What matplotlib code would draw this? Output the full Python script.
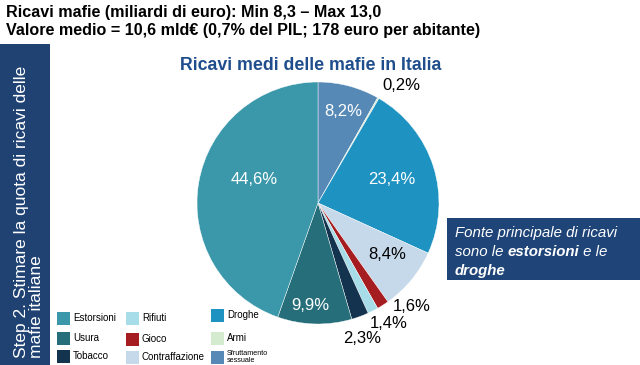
import matplotlib
matplotlib.use("Agg")
import numpy as np
import matplotlib.pyplot as plt
from matplotlib.patches import Rectangle

plt.rcParams['font.family'] = ['Liberation Sans', 'DejaVu Sans']

# data (clockwise from 12 o'clock)
categorie = ["Sfruttamento\nsessuale", "Armi", "Droghe", "Contraffazione", "Gioco",
             "Rifiuti", "Tobacco", "Usura", "Estorsioni"]
quote = [8.2, 0.2, 23.4, 8.4, 1.6, 1.4, 2.3, 9.9, 44.6]
colori = ["#5689B6", "#D4EBD0", "#1E93C1", "#C6D9EA", "#A61D21",
          "#A6DDE8", "#14334F", "#266E7A", "#3A98AA"]
col_testo = ["white", "black", "white", "black", "black", "black", "black", "white", "white"]
# label placement (radius, angular shift in degrees)
lab_r = [0.78, 1.19, 0.64, 0.71, 1.15, 1.15, 1.18, 0.85, 0.56]
lab_dt = [-0.6, -5.5, 0.3, 3.1, 9.7, 3.3, -2.4, -2.9, -10.7]

# legend order: column by column
legenda = ["Estorsioni", "Usura", "Tobacco", "Rifiuti", "Gioco", "Contraffazione",
           "Droghe", "Armi", "Sfruttamento\nsessuale"]

W, H = 640, 365
fig = plt.figure(figsize=(6.4, 3.65), dpi=100)

def fx(x):
    return x / W

def fy(y):
    return 1 - y / H

# header
fig.text(fx(6), fy(12), "Ricavi mafie (miliardi di euro): Min 8,3 \u2013 Max 13,0",
         fontsize=11.6, fontweight='bold', va='center', ha='left')
fig.text(fx(6), fy(31), "Valore medio = 10,6 mld\u20ac (0,7% del PIL; 178 euro per abitante)",
         fontsize=11.6, fontweight='bold', va='center', ha='left')

# left band
fig.patches.append(Rectangle((0, 0), fx(50), fy(44), transform=fig.transFigure,
                             facecolor="#1F4273", edgecolor='none'))
fig.text(fx(29), fy(358), "Step 2. Stimare la quota di ricavi delle\nmafie italiane",
         rotation=90, color='white', fontsize=12.5, ha='center', va='bottom',
         multialignment='left', linespacing=1.05)

# right box
fig.patches.append(Rectangle((fx(447), fy(280)), fx(193), (280 - 218) / H,
                             transform=fig.transFigure, facecolor="#1F4478", edgecolor='none'))

# title
fig.text(fx(311), fy(65), "Ricavi medi delle mafie in Italia", color="#1F4E8C",
         fontsize=12.8, fontweight='bold', ha='center', va='center')

# pie
cx, cy, r = 318, 203, 121
ax = fig.add_axes([fx(cx - r), fy(cy + r), 2 * r / W, 2 * r / H])
wedges, _ = ax.pie(quote, colors=colori, startangle=90, counterclock=False,
                   wedgeprops=dict(edgecolor='white', linewidth=0.3))
ax.set_xlim(-1, 1)
ax.set_ylim(-1, 1)
for w, q, c, rr, dt in zip(wedges, quote, col_testo, lab_r, lab_dt):
    ang = np.deg2rad((w.theta1 + w.theta2) / 2 + dt)
    ax.text(rr * np.cos(ang), rr * np.sin(ang), f"{q:.1f}%".replace(".", ","),
            color=c, fontsize=12, ha='center', va='center', clip_on=False)

# legend
col_x = [57, 126, 211]
row_y = [[318, 338, 356], [318, 339, 357], [315, 338, 357]]
col_of = dict(zip(categorie, colori))
for i, name in enumerate(legenda):
    c, rw = divmod(i, 3)
    x0, y0 = col_x[c], row_y[c][rw]
    fig.patches.append(Rectangle((fx(x0), fy(y0 + 6.5)), fx(13), 13 / H,
                                 transform=fig.transFigure, facecolor=col_of[name],
                                 edgecolor='none'))
    small = "\n" in name
    fig.text(fx(x0 + 16), fy(y0), name, fontsize=5.2 if small else 7,
             va='center', ha='left', linespacing=1.1)

# box text with mixed weights
renderer = fig.canvas.get_renderer()
lines = [[("Fonte principale di ricavi", 'normal')],
         [("sono le ", 'normal'), ("estorsioni", 'bold'), (" e le", 'normal')],
         [("droghe", 'bold')]]
for k, parts in enumerate(lines):
    x = fx(455)
    y = fy(233 + 19 * k)
    for txt, wgt in parts:
        t = fig.text(x, y, txt, color='white', fontsize=10.8, style='italic',
                     fontweight=wgt, ha='left', va='center')
        bb = t.get_window_extent(renderer)
        x += bb.width / W

fig.savefig("out.png", dpi=100)
